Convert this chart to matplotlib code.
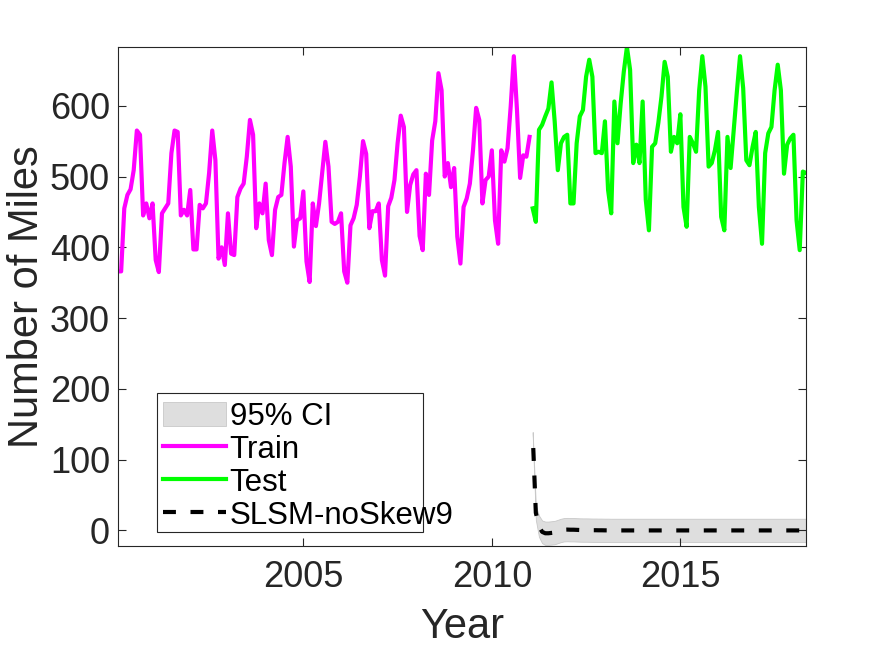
import matplotlib
matplotlib.use("Agg")
import matplotlib.pyplot as plt
from matplotlib.patches import Rectangle
import numpy as np

# monthly values, Jan 2000 .. Dec 2010 (train)
train_miles = [
    366, 366, 455, 474, 482, 509, 565, 559, 445, 462, 441, 462,
    382, 365, 448, 455, 462, 533, 565, 563, 445, 453, 445, 481,
    397, 397, 460, 455, 462, 505, 565, 523, 384, 400, 375, 448,
    391, 389, 471, 483, 490, 528, 580, 559, 427, 462, 448, 490,
    410, 389, 453, 471, 474, 519, 556, 514, 401, 438, 441, 479,
    380, 351, 462, 430, 462, 505, 549, 514, 436, 433, 436, 448,
    366, 350, 431, 441, 460, 500, 550, 532, 427, 451, 451, 462,
    382, 360, 458, 470, 495, 547, 586, 570, 450, 488, 503, 509,
    416, 396, 504, 474, 551, 578, 646, 622, 500, 519, 485, 512,
    415, 377, 457, 469, 490, 537, 597, 580, 462, 495, 500, 537,
    438, 405, 537, 521, 540, 599, 670, 594, 498, 530, 528, 556,
]

# Jan 2011 .. Apr 2018 (test)
test_miles = [
    455, 436, 566, 573, 585, 596, 633, 578, 509, 547, 556, 559,
    462, 462, 547, 585, 594, 641, 665, 641, 533, 535, 533, 578,
    481, 448, 606, 547, 603, 648, 683, 651, 519, 545, 519, 606,
    467, 424, 542, 547, 576, 613, 662, 641, 535, 556, 547, 588,
    457, 429, 556, 547, 535, 622, 670, 627, 514, 519, 537, 563,
    443, 424, 556, 512, 566, 620, 670, 625, 523, 516, 542, 563,
    457, 405, 533, 561, 570, 622, 658, 622, 504, 545, 554, 559,
    438, 396, 507, 505,
]

# forecast over the test months and its 95% CI half width
forecast = [
    137, 25, 6, -2, -4, -4, -3.5, -3, -1.5, 0, 1, 1.2,
    1, 1, 0.8, 0.6, 0.5, 0.5, 0.4, 0.3, 0.3, 0.2, 0.2, 0.1,
    0.1, 0, 0, 0, 0, 0, 0, 0, 0, 0, 0, 0,
    0, 0, 0, 0, 0, 0, 0, 0, 0, 0, 0, 0,
    0, 0, 0, 0, 0, 0, 0, 0, 0, 0, 0, 0,
    0, 0, 0, 0, 0, 0, 0, 0, 0, 0, 0, 0,
    0, 0, 0, 0, 0, 0, 0, 0, 0, 0, 0, 0,
    0, 0, 0, 0,
]
ci_half = [
    2, 10, 15, 16, 16.5, 16.5, 16.5, 16.5, 16.5, 16.5, 16.5, 16.5,
    16.5, 16.5, 16.5, 16.5, 16.5, 16.5, 16.5, 16.5, 16.5, 16.5, 16.5, 16.5,
    16.5, 16.5, 16.5, 16.5, 16.5, 16.5, 16.5, 16.5, 16.5, 16.5, 16.5, 16.5,
    16.5, 16.5, 16.5, 16.5, 16.5, 16.5, 16.5, 16.5, 16.5, 16.5, 16.5, 16.5,
    16.5, 16.5, 16.5, 16.5, 16.5, 16.5, 16.5, 16.5, 16.5, 16.5, 16.5, 16.5,
    16.5, 16.5, 16.5, 16.5, 16.5, 16.5, 16.5, 16.5, 16.5, 16.5, 16.5, 16.5,
    16.5, 16.5, 16.5, 16.5, 16.5, 16.5, 16.5, 16.5, 16.5, 16.5, 16.5, 16.5,
    16.5, 16.5, 16.5, 16.5,
]

start_year = 2000
x_ticks = [2005, 2010, 2015]
y_ticks = [0, 100, 200, 300, 400, 500, 600]

dark = "#262626"
plt.rcParams["font.family"] = ["Liberation Sans", "DejaVu Sans"]

x_train = start_year + np.arange(1, len(train_miles) + 1) / 12
x_test = x_train[-1] + np.arange(1, len(test_miles) + 1) / 12
fc = np.array(forecast)
ci = np.array(ci_half)

W, H = 892, 646
fig = plt.figure(figsize=(W / 100, H / 100), dpi=100)
ax = fig.add_axes([118 / W, 1 - 546 / H, 688 / W, 499 / H])

ax.fill_between(x_test, fc - ci, fc + ci, facecolor="#dedede",
                edgecolor="#c8c8c8", linewidth=0.6, label="95% CI")
ax.plot(x_train, train_miles, color="#ff00ff", lw=3, label="Train")
ax.plot(x_test, test_miles, color="#00ff00", lw=3, label="Test")
ax.plot(x_test, fc, color="black", lw=3, linestyle=(3.1, (3.1, 3.5)),
        label="SLSM-noSkew9")

ax.set_xlim(x_train[0], x_test[-1])
ax.set_ylim(-22, 683)
ax.set_xticks(x_ticks)
ax.set_yticks(y_ticks)
ax.tick_params(direction="in", length=5.5, width=0.8, colors=dark,
               labelsize=26, top=True, right=True)
ax.tick_params(axis="x", pad=10)
ax.tick_params(axis="y", pad=5.8)
for s in ax.spines.values():
    s.set_color(dark)
    s.set_linewidth(0.8)

ax.set_xlabel("Year", fontsize=30, color=dark, labelpad=9)
ax.set_ylabel("Number of Miles", fontsize=30, color=dark, labelpad=2)

# legend box drawn separately: the long label runs past the frame
frame = Rectangle((156.7 / W, 1 - 531.7 / H), 266.6 / W, 138.4 / H,
                  transform=fig.transFigure, facecolor="white",
                  edgecolor=dark, linewidth=0.8, zorder=4.5, clip_on=False)
ax.add_patch(frame)
leg = ax.legend(loc="upper left", bbox_to_anchor=(162.7 / W, 1 - 401.5 / H),
                bbox_transform=fig.transFigure, borderaxespad=0, borderpad=0,
                fontsize=22.5, frameon=False, handlelength=2.02,
                handleheight=0.85, handletextpad=0.12, labelspacing=0.086)
for t in leg.get_texts():
    t.set_color("black")
leg.legend_handles[3].set_linestyle((0, (3.1, 3.5)))

fig.savefig("out.png", dpi=100)
